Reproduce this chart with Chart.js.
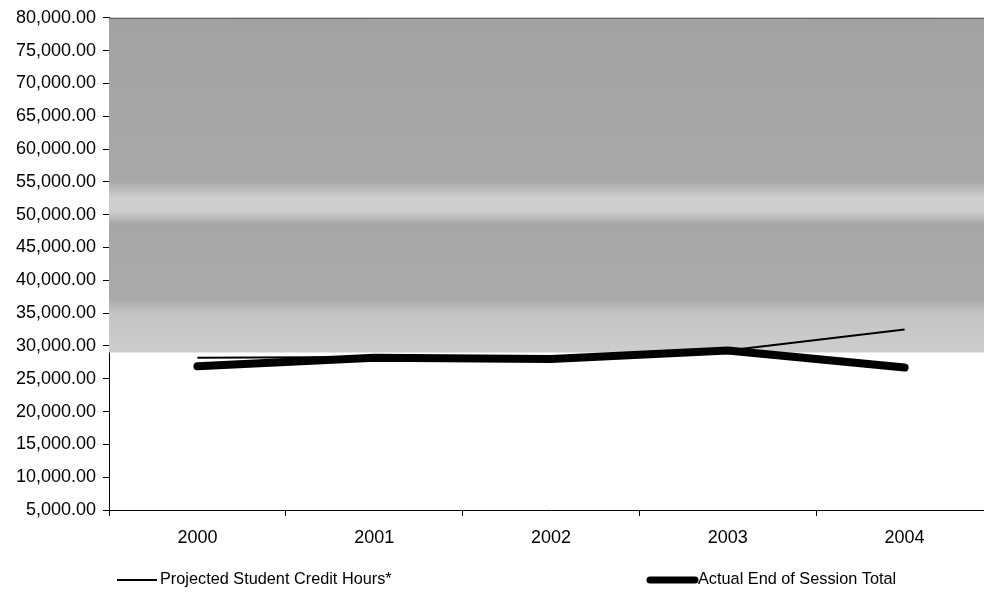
<!DOCTYPE html>
<html>
<head>
<meta charset="utf-8">
<script src="https://cdn.jsdelivr.net/npm/chart.js@4/dist/chart.umd.min.js"></script>
<style>
  html, body { margin: 0; padding: 0; background: #fff; overflow: hidden; }
  #wrap { width: 994px; height: 592px; }
</style>
</head>
<body>
<div id="wrap"><canvas id="creditChart" width="994" height="592"></canvas></div>
<script>
// years along the x-axis
var years = ["2000", "2001", "2002", "2003", "2004"];
// student credit hours
var projected = [28200, 28300, 28300, 29300, 32500];
var actual = [26900, 28200, 28000, 29300, 26700];
// y-axis range
var yMin = 5000;
var yMax = 80000;
var yStep = 5000;

var tickFont = { family: "'Liberation Sans', Arial, sans-serif", size: 18 };

// speckled grey backdrop behind the plot
var backdrop = {
  id: 'backdrop',
  beforeDatasetsDraw: function (chart) {
    var a = chart.chartArea, y = chart.scales.y, ctx = chart.ctx;
    var bottom = y.getPixelForValue(29000);
    var g = ctx.createLinearGradient(0, a.top, 0, bottom);
    var span = bottom - a.top;
    function at(v) { return (y.getPixelForValue(v) - a.top) / span; }
    g.addColorStop(0, '#a2a2a2');
    g.addColorStop(at(55000), '#a8a8a8');
    g.addColorStop(at(52500), '#d0d0d0');
    g.addColorStop(at(50500), '#cdcdcd');
    g.addColorStop(at(48500), '#a6a6a6');
    g.addColorStop(at(37000), '#aaaaaa');
    g.addColorStop(at(35000), '#c4c4c4');
    g.addColorStop(1, '#cdcdcd');
    ctx.save();
    ctx.fillStyle = g;
    ctx.fillRect(a.left, a.top, a.right - a.left, bottom - a.top);
    ctx.strokeStyle = '#555';
    ctx.lineWidth = 1;
    ctx.beginPath();
    ctx.moveTo(a.left, a.top + 0.5);
    ctx.lineTo(a.right, a.top + 0.5);
    ctx.stroke();
    ctx.restore();
  }
};

// legend spread across the bottom like the original
var wideLegend = {
  id: 'wideLegend',
  afterDraw: function (chart) {
    var ctx = chart.ctx;
    var items = [
      { ds: chart.data.datasets[0], x: 117, len: 40 },
      { ds: chart.data.datasets[1], x: 650, len: 45 }
    ];
    ctx.save();
    ctx.font = "16.3px 'Liberation Sans', Arial, sans-serif";
    ctx.textBaseline = 'middle';
    ctx.fillStyle = '#000';
    items.forEach(function (it) {
      var yy = 580;
      ctx.strokeStyle = it.ds.borderColor;
      ctx.lineWidth = it.ds.legendWidth;
      ctx.lineCap = it.ds.borderCapStyle;
      ctx.beginPath();
      ctx.moveTo(it.x, yy);
      ctx.lineTo(it.x + it.len, yy);
      ctx.stroke();
      ctx.fillText(it.ds.label, it.x + it.len + 3, yy);
    });
    ctx.restore();
  }
};

var chart = new Chart(document.getElementById("creditChart"), {
  type: 'line',
  data: {
    labels: years,
    datasets: [
      {
        label: "Projected Student Credit Hours*",
        data: projected,
        borderColor: '#000',
        borderWidth: 2,
        borderCapStyle: 'butt',
        legendWidth: 2,
        pointRadius: 0,
        tension: 0
      },
      {
        label: "Actual End of Session Total",
        data: actual,
        borderColor: '#000',
        borderWidth: 8,
        borderCapStyle: 'round',
        borderJoinStyle: 'round',
        legendWidth: 7,
        pointRadius: 0,
        tension: 0
      }
    ]
  },
  options: {
    responsive: false,
    animation: false,
    layout: { padding: { top: 16, right: 1, bottom: 22, left: 0 } },
    plugins: {
      legend: { display: false },
      tooltip: { enabled: false }
    },
    scales: {
      x: {
        offset: true,
        grid: {
          offset: true,
          drawOnChartArea: false,
          color: '#000',
          tickLength: 6,
          tickColor: '#000'
        },
        border: { color: '#000', width: 1 },
        ticks: { color: '#000', font: tickFont, padding: 11, maxRotation: 0 },
        afterFit: function (s) { s.height = 60; }
      },
      y: {
        min: yMin,
        max: yMax,
        grid: {
          drawOnChartArea: false,
          tickLength: 6,
          tickColor: '#000'
        },
        border: { color: '#000', width: 1 },
        ticks: {
          stepSize: yStep,
          color: '#000',
          font: tickFont,
          padding: 7,
          callback: function (v) {
            return v.toLocaleString('en-US', { minimumFractionDigits: 2, maximumFractionDigits: 2 });
          }
        },
        afterFit: function (s) { s.width = 109; }
      }
    }
  },
  plugins: [backdrop, wideLegend]
});
</script>
</body>
</html>
